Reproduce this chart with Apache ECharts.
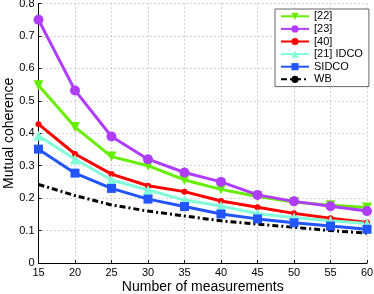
<!DOCTYPE html>
<html><head><meta charset="utf-8">
<script src="https://cdn.jsdelivr.net/npm/echarts@6/dist/echarts.min.js"></script>
<style>html,body{margin:0;padding:0;background:#fff}#c{width:374px;height:294px}</style>
</head><body><div id="c"></div>
<script>
const categories = [15,20,25,30,35,40,45,50,55,60];
const s22   = [0.548,0.419,0.328,0.300,0.256,0.227,0.205,0.188,0.178,0.171];
const s23   = [0.750,0.532,0.390,0.320,0.279,0.250,0.210,0.190,0.175,0.160];
const s40   = [0.428,0.336,0.274,0.238,0.220,0.191,0.172,0.153,0.138,0.125];
const s21   = [0.392,0.320,0.256,0.225,0.194,0.176,0.152,0.140,0.130,0.122];
const sSIDCO= [0.351,0.277,0.230,0.197,0.174,0.151,0.136,0.124,0.114,0.104];
const sWB   = [0.242,0.208,0.179,0.160,0.145,0.130,0.120,0.110,0.100,0.092];
const yTicks = [0,0.1,0.2,0.3,0.4,0.5,0.6,0.7,0.8];

const font = 'Liberation Sans, Arial, sans-serif';
function pts(arr){ return categories.map((x,i)=>[x,arr[i]]); }
function ser(name, data, color, symbol, size, extra){
  return Object.assign({
    name, type:'line', data: pts(data), symbol, symbolSize:size,
    itemStyle:{color}, lineStyle:{color, width:3}, z:3
  }, extra||{});
}
const chart = echarts.init(document.getElementById('c'));
chart.setOption({
  animation:false,
  grid:{left:38.5, right:7, top:3.5, bottom:31, containLabel:false, outerBoundsMode:'none'},
  xAxis:{type:'value', min:15, max:60, interval:5,
    name:'Number of measurements', nameLocation:'middle', nameGap:17, nameMoveOverlap:false,
    nameTextStyle:{fontFamily:font, fontSize:14, color:'#000'},
    axisLine:{lineStyle:{color:'#000', width:1}},
    axisTick:{inside:true, length:3, lineStyle:{color:'#000'}},
    axisLabel:{fontFamily:font, fontSize:11, color:'#000', margin:4},
    splitLine:{show:true, lineStyle:{color:'#aaa', type:[1,3], width:1}}
  },
  yAxis:{type:'value', min:0, max:0.8, interval:0.1,
    name:'Mutual coherence', nameLocation:'middle', nameGap:22, nameMoveOverlap:false,
    nameTextStyle:{fontFamily:font, fontSize:14, color:'#000'},
    axisLine:{show:true, lineStyle:{color:'#000', width:1}},
    axisTick:{show:true, inside:true, length:3, lineStyle:{color:'#000'}},
    axisLabel:{fontFamily:font, fontSize:11, color:'#000', margin:4,
      formatter:v=>{const t=yTicks.find(k=>Math.abs(k-v)<1e-9); return t===0?'0':String(t);}},
    splitLine:{show:true, lineStyle:{color:'#aaa', type:[1,3], width:1}}
  },
  legend:{orient:'vertical', left:275, top:9, width:88, itemWidth:28, itemHeight:9, itemGap:0,
    padding:[1,6,1,5], backgroundColor:'#fff', borderColor:'#666', borderWidth:1,
    textStyle:{fontFamily:font, fontSize:11, color:'#000', lineHeight:12.6},
    data:['[22]','[23]','[40]','[21] IDCO','SIDCO','WB']},
  series:[
    ser('WB', sWB, '#000', 'none', 0, {lineStyle:{color:'#000', width:3, type:[6,3,2,3]}, z:2}),
    ser('[22]', s22, '#66ee00', 'triangle', 10, {symbolRotate:180}),
    ser('[23]', s23, '#b03cff', 'circle', 10),
    ser('[40]', s40, '#ff0000', 'circle', 6),
    ser('[21] IDCO', s21, '#80ffd8', 'triangle', 10),
    ser('SIDCO', sSIDCO, '#2255ff', 'rect', 9)
  ]
});
</script></body></html>
